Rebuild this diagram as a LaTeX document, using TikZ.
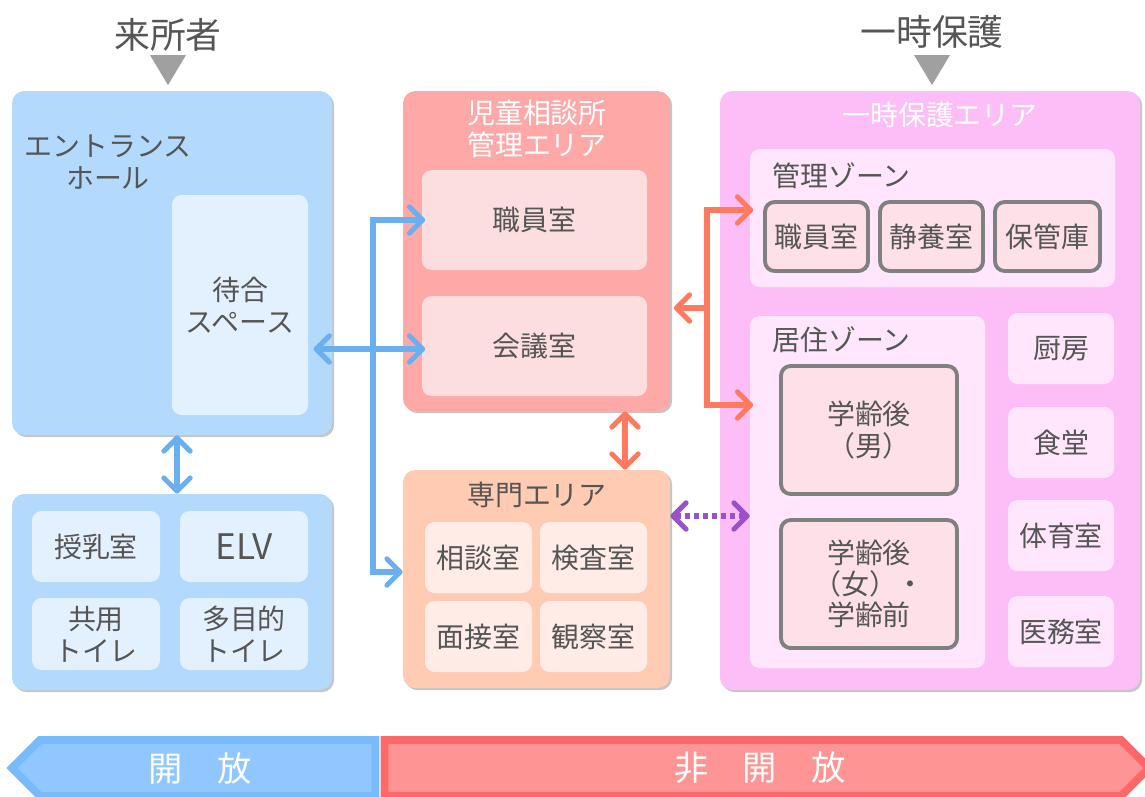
\documentclass[tikz,border=0pt]{standalone}
\usepackage{fontspec}
\newfontfamily\jpfont{Noto Sans CJK JP}
\usepackage{tikz}
\usetikzlibrary{arrows.meta}
\usetikzlibrary{shadows}

\definecolor{txtgray}{RGB}{85,85,85}
\definecolor{trigray}{RGB}{160,160,160}
\definecolor{openblue}{RGB}{179,217,252}
\definecolor{openlight}{RGB}{227,241,254}
\definecolor{admred}{RGB}{255,168,168}
\definecolor{admlight}{RGB}{253,222,222}
\definecolor{specpeach}{RGB}{255,203,179}
\definecolor{speclight}{RGB}{255,236,230}
\definecolor{temppink}{RGB}{253,190,247}
\definecolor{zonelight}{RGB}{255,230,252}
\definecolor{zroomfill}{RGB}{253,224,232}
\definecolor{zroomline}{RGB}{128,128,128}
\definecolor{arrblue}{RGB}{106,175,240}
\definecolor{arrorange}{RGB}{255,122,95}
\definecolor{arrpurple}{RGB}{153,82,204}
\definecolor{banblue}{RGB}{144,199,254}
\definecolor{banblueline}{RGB}{119,187,253}
\definecolor{banred}{RGB}{255,148,148}
\definecolor{banredline}{RGB}{255,104,104}

\newcommand{\roomsize}{\fontsize{15.9}{18}\selectfont}
\newcommand{\titlesize}{\fontsize{20.4}{24}\selectfont}
\newcommand{\bannersize}{\fontsize{19.5}{22}\selectfont}

\begin{document}
\begin{tikzpicture}[x=0.02cm, y=-0.02cm,
    font=\jpfont\roomsize, text=txtgray,
    dim/.style 2 args={minimum width=#1*0.02cm, minimum height=#2*0.02cm, inner sep=0pt},
    area/.style={rounded corners=7pt, drop shadow={shadow xshift=1.2pt, shadow yshift=-1.2pt, opacity=0.45}},
    room/.style={rounded corners=5.5pt, align=center},
    zroom/.style={room, fill=zroomfill, draw=zroomline, line width=2.2pt},
    conn/.style={line width=2.9pt, >={Straight Barb[round, length=7.5pt, width=15pt]}},
    bluearr/.style={conn, draw=arrblue},
    orarr/.style={conn, draw=arrorange},
    purarr/.style={conn, draw=arrpurple, dash pattern=on 2.9pt off 2.3pt}]

  \useasboundingbox (0,0) rectangle (1145,796);

  % defines
  \coordinate (bj) at (373,349);   % blue junction
  \coordinate (brow) at (0,572);
  \coordinate (bc) at (177,0);
  \coordinate (oj) at (707,308);   % orange junction
  \coordinate (oc) at (625,0);
  \coordinate (orowa) at (0,210);
  \coordinate (orowb) at (0,405);
  \coordinate (prow) at (0,516);

  % visitors and titles
  \node[font=\jpfont\titlesize] (visitor) at (168,35) {来所者};
  \fill[trigray] (150,55) -- (186,55) -- (168,85) -- cycle;
  \node[font=\jpfont\titlesize] (tempttl) at (932,32) {一時保護};
  \fill[trigray] (914,55) -- (950,55) -- (932,85) -- cycle;

  % open area: entrance hall
  \node[area, fill=openblue, dim={320}{344}] (entr) at (172,263) {};
  \node[align=center] (entrlbl) at (108,162) {エントランス\\ホール};
  \node[room, fill=openlight, dim={136}{220}] (wait) at (240,305) {待合\\スペース};

  % open area: facilities
  \node[area, fill=openblue, dim={320}{196}] (facil) at (172,592) {};
  \node[room, fill=openlight, dim={128}{71}] (nurse) at (96,546.5) {授乳室};
  \node[room, fill=openlight, dim={128}{71}, font=\jpfont\fontsize{20}{22}\selectfont] (elv) at (244,546.5) {ELV};
  \node[room, fill=openlight, dim={128}{72}] (wc) at (96,634) {共用\\トイレ};
  \node[room, fill=openlight, dim={128}{72}] (mwc) at (244,634) {多目的\\トイレ};

  % consultation office admin area
  \node[area, fill=admred, dim={267}{320}] (admin) at (536.5,251) {};
  \node[align=center, text=white] (adminlbl) at (537,129) {児童相談所\\管理エリア};
  \node[room, fill=admlight, dim={225}{100}] (staff) at (534.5,220) {職員室};
  \node[room, fill=admlight, dim={225}{100}] (meet) at (534.5,346) {会議室};

  % specialist area
  \node[area, fill=specpeach, dim={267}{218}] (spec) at (536.5,579) {};
  \node (speclbl) at (537,495) {専門エリア};
  \node[room, fill=speclight, dim={107}{71}] (consult) at (478.5,557.5) {相談室};
  \node[room, fill=speclight, dim={107}{71}] (exam) at (593.5,557.5) {検査室};
  \node[room, fill=speclight, dim={107}{71}] (interv) at (478.5,636.5) {面接室};
  \node[room, fill=speclight, dim={107}{71}] (observ) at (593.5,636.5) {観察室};

  % temporary protection area
  \node[area, fill=temppink, dim={420}{599}] (temp) at (930,390.5) {};
  \node[text=white] (templbl) at (940,115) {一時保護エリア};

  \node[room, fill=zonelight, dim={365}{138}] (mzone) at (932.5,218) {};
  \node[anchor=west] (mzonelbl) at (766,176) {管理ゾーン};
  \node[zroom, dim={103}{69}] (tstaff) at (816.5,236.5) {職員室};
  \node[zroom, dim={103}{69}] (rest) at (931.5,236.5) {静養室};
  \node[zroom, dim={105}{69}] (store) at (1047.5,236.5) {保管庫};

  \node[room, fill=zonelight, dim={235}{352}] (lzone) at (867.5,492) {};
  \node[anchor=west] (lzonelbl) at (766,340) {居住ゾーン};
  \node[zroom, dim={176}{128}] (boys) at (869,430) {学齢後\\（男）};
  \node[zroom, dim={176}{128}, font=\jpfont\fontsize{15.9}{17.5}\selectfont] (girls) at (869,584) {学齢後\\（女）・\\学齢前};

  \node[room, fill=zonelight, dim={106}{71}] (kitchen) at (1061,348.5) {厨房};
  \node[room, fill=zonelight, dim={106}{71}] (dining) at (1061,442.5) {食堂};
  \node[room, fill=zonelight, dim={106}{71}] (gym) at (1061,535.5) {体育室};
  \node[room, fill=zonelight, dim={106}{71}] (clinic) at (1061,631.5) {医務室};

  % draw blue connections
  \draw[bluearr, <->] (entr.south -| bc) -- (facil.north -| bc);
  \draw[bluearr, <->] ([xshift=3pt]wait.east |- bj) -- ([xshift=2pt]meet.west |- bj);
  \draw[bluearr, ->] (bj) |- ([xshift=2pt]staff.west);
  \draw[bluearr, ->] (bj) |- (spec.west |- brow);

  % draw orange connections
  \draw[orarr, <->] (admin.south -| oc) -- (spec.north -| oc);
  \draw[orarr, ->] (oj) -- ([xshift=2pt]admin.east |- oj);
  \draw[orarr, ->] (oj) |- ([xshift=2pt]mzone.west |- orowa);
  \draw[orarr, ->] (oj) |- ([xshift=2pt]lzone.west |- orowb);

  % draw purple dotted connection
  \draw[purarr, <->] (spec.east |- prow) -- (lzone.west |- prow);

  % open / not open banner
  \filldraw[fill=banblue, draw=banblueline, line width=4.5pt]
    (375.5,740) -- (40,740) -- (12,768) -- (40,796) -- (375.5,796) -- cycle;
  \node[text=white, font=\jpfont\bannersize] (openlbl) at (200,768) {開　放};
  \filldraw[fill=banred, draw=banredline, line width=4.5pt]
    (384.5,740) -- (1121,740) -- (1149,768) -- (1121,796) -- (384.5,796) -- cycle;
  \node[text=white, font=\jpfont\bannersize] (closedlbl) at (760,768) {非　開　放};

\end{tikzpicture}
\end{document}
